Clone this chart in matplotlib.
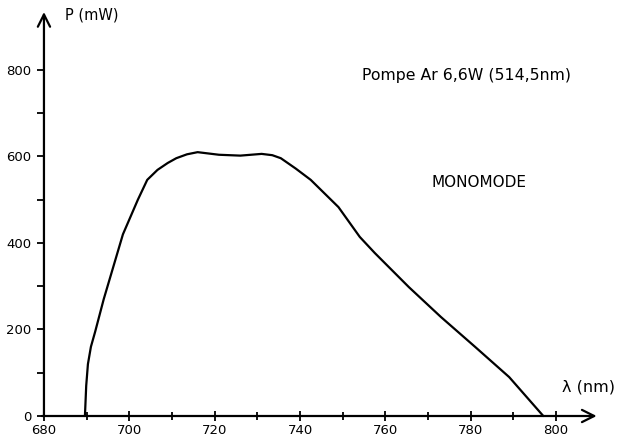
import matplotlib.pyplot as plt
import numpy as np

plt.rcParams['font.family'] = 'DejaVu Sans'
plt.rcParams['font.size'] = 9

# values
wavelength = [689.6, 689.9, 690.3, 691.0, 692.0, 694.0, 698.5, 702.0, 704.2, 706.6, 709.0,
              711.0, 713.5, 716.0, 721.0, 726.0, 731.0, 733.5, 735.5, 739.0, 742.5, 749.0,
              754.0, 757.5, 765.5, 773.0, 781.0, 789.0, 797.0]
power = [0, 70, 120, 160, 195, 270, 420, 500, 546, 569, 585,
         596, 605, 610, 604, 602, 606, 603, 596, 572, 546, 483,
         414, 377, 298, 229, 160, 90, 0]

x_major = [680, 700, 720, 740, 760, 780, 800]
x_minor = [690, 710, 730, 750, 770, 790]
y_major = [0, 200, 400, 600, 800]
y_minor = [100, 300, 500, 700]

fig = plt.figure(figsize=(6.18, 4.41), dpi=100)
ax = fig.add_axes([0, 0, 1, 1])
ax.set_xlim(669.7, 814.5)
ax.set_ylim(-57.8, 961.8)

ax.plot(wavelength, power, color='black', lw=1.6, solid_capstyle='round', solid_joinstyle='round')

# axes with open arrow heads
for s in ['top', 'right', 'left', 'bottom']:
    ax.spines[s].set_visible(False)
ax.spines['left'].set_position(('data', 680))
ax.spines['bottom'].set_position(('data', 0))
ax.annotate('', xy=(680, 934), xytext=(680, 0),
            arrowprops=dict(arrowstyle='->', lw=1.6, color='black', mutation_scale=22, shrinkA=0, shrinkB=0))
ax.annotate('', xy=(809.5, 0), xytext=(679.5, 0),
            arrowprops=dict(arrowstyle='->', lw=1.6, color='black', mutation_scale=22, shrinkA=0, shrinkB=0))

ax.set_xticks(x_major)
ax.set_xticks(x_minor, minor=True)
ax.set_yticks(y_major)
ax.set_yticks(y_minor, minor=True)
ax.tick_params(axis='x', which='major', direction='inout', length=7, width=1.3, pad=2, labelsize=9.5)
ax.tick_params(axis='x', which='minor', direction='inout', length=6, width=1.3)
ax.tick_params(axis='y', which='major', direction='out', length=5, width=1.3, pad=4, labelsize=9.5)
ax.tick_params(axis='y', which='minor', direction='out', length=5, width=1.3)

ax.text(684.9, 927, 'P (mW)', fontsize=10.5, va='center', ha='left')
ax.text(801.4, 68, 'λ (nm)', fontsize=11.5, va='center', ha='left')
ax.text(779, 788, 'Pompe Ar 6,6W (514,5nm)', fontsize=11.3, ha='center', va='center')
ax.text(782, 539, 'MONOMODE', fontsize=11, ha='center', va='center')

plt.savefig('out.png', dpi=100)
